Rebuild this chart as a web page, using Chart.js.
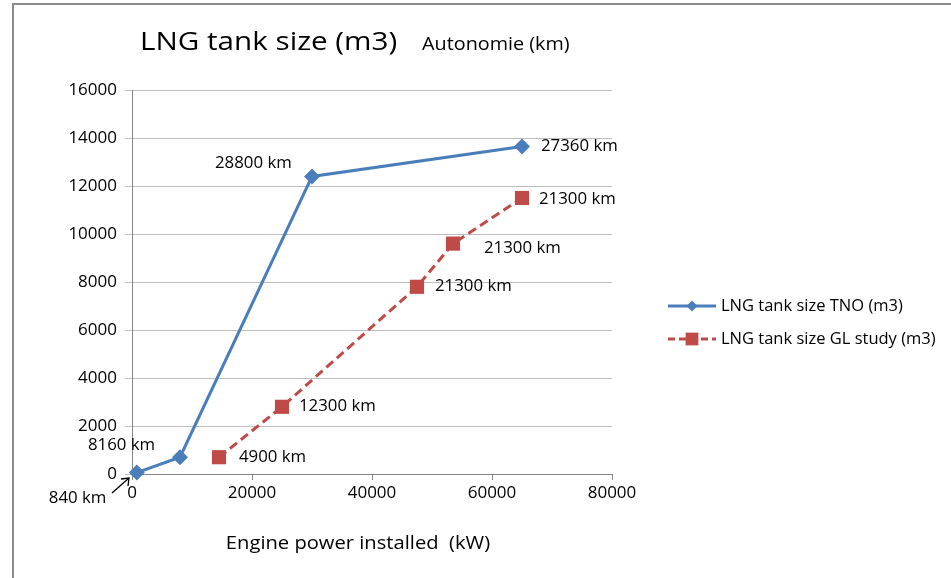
<!DOCTYPE html>
<html><head><meta charset="utf-8">
<script src="https://cdn.jsdelivr.net/npm/chart.js@4/dist/chart.umd.min.js"></script>
<style>html,body{margin:0;padding:0;background:#fff}#wrap{width:951px;height:578px;position:relative}</style>
</head><body><div id="wrap"><canvas id="c" width="951" height="578"></canvas></div>
<script>
// ---- data ----
const xTicks = [0, 20000, 40000, 60000, 80000];
const yTicks = [0, 2000, 4000, 6000, 8000, 10000, 12000, 14000, 16000];
const seriesNames = ['LNG tank size TNO (m3)', 'LNG tank size GL study (m3)'];
const tnoPower = [800, 8000, 30000, 65000];
const tnoTank = [60, 700, 12400, 13650];
const tnoRange = ['840 km', '8160 km', '28800 km', '27360 km'];
const glPower = [14500, 25000, 47500, 53500, 65000];
const glTank = [700, 2800, 7800, 9600, 11500];
const glRange = ['4900 km', '12300 km', '21300 km', '21300 km', '21300 km'];
const titleText = 'LNG tank size (m3)';
const subTitleText = 'Autonomie (km)';
const xTitleText = 'Engine power installed  (kW)';

// ---- style ----
const FONT = '"Open Sans", "DejaVu Sans", sans-serif';
const BLUE = '#4a7ebb';
const RED = '#be4b48';
// label offsets (pixels from point): [dx, dy]
const tnoLabelOff = [[-88, 26], [-92, -12], [-97, -13], [19, 0]];
const glLabelOff = [[20, 0], [17, 0], [18, 0], [31, 5], [17, 1]];

const pts = (xs, ys) => xs.map((x, i) => ({x: x, y: ys[i]}));

function txt(ctx, s, x, y, sx, align) {
  ctx.save();
  ctx.translate(x, y); ctx.scale(sx, 1);
  ctx.textAlign = align || 'left';
  ctx.fillText(s, 0, 0);
  ctx.restore();
}

const overlay = {
  id: 'overlay',
  afterDraw(chart) {
    const ctx = chart.ctx;
    const xs = chart.scales.x, ys = chart.scales.y;
    ctx.save();
    // frame
    ctx.strokeStyle = '#8a8a8a'; ctx.lineWidth = 2;
    ctx.beginPath(); ctx.moveTo(951, 4); ctx.lineTo(13, 4); ctx.lineTo(13, 578); ctx.stroke();
    // titles
    ctx.fillStyle = '#000'; ctx.textBaseline = 'middle';
    ctx.font = '26px ' + FONT;
    txt(ctx, titleText, 140, 43, 1.14);
    ctx.font = '18px ' + FONT;
    txt(ctx, subTitleText, 422, 45, 1.1);
    txt(ctx, xTitleText, 358, 544, 1.12, 'center');
    // data labels
    ctx.font = '16px ' + FONT;
    tnoRange.forEach((t, i) => {
      const px = xs.getPixelForValue(tnoPower[i]), py = ys.getPixelForValue(tnoTank[i]);
      txt(ctx, t, px + tnoLabelOff[i][0], py + tnoLabelOff[i][1], 1.05);
    });
    glRange.forEach((t, i) => {
      const px = xs.getPixelForValue(glPower[i]), py = ys.getPixelForValue(glTank[i]);
      txt(ctx, t, px + glLabelOff[i][0], py + glLabelOff[i][1], 1.05);
    });
    // arrow to first point
    const ax = xs.getPixelForValue(0) - 3, ay = ys.getPixelForValue(0) + 4;
    ctx.strokeStyle = '#000'; ctx.lineWidth = 1.3;
    ctx.beginPath(); ctx.moveTo(ax - 17, ay + 15); ctx.lineTo(ax, ay); ctx.stroke();
    ctx.beginPath(); ctx.moveTo(ax - 8, ay + 1); ctx.lineTo(ax, ay); ctx.lineTo(ax - 1, ay + 8); ctx.stroke();
    // legend
    const lx = 668, lw = 48;
    const items = [
      {y: 306, color: BLUE, dash: [], style: 'rectRot', r: 5.5},
      {y: 339, color: RED, dash: [7, 4], style: 'rect', r: 9}
    ];
    items.forEach((it, i) => {
      ctx.strokeStyle = it.color; ctx.lineWidth = 3; ctx.setLineDash(it.dash);
      ctx.beginPath(); ctx.moveTo(lx, it.y); ctx.lineTo(lx + lw, it.y); ctx.stroke();
      ctx.setLineDash([]);
      ctx.fillStyle = it.color;
      Chart.helpers.drawPoint(ctx, {pointStyle: it.style, radius: it.r, borderWidth: 0}, lx + lw / 2, it.y);
      ctx.fillStyle = '#000'; ctx.font = '16.5px ' + FONT;
      txt(ctx, seriesNames[i], 721, it.y, 1.0);
    });
    ctx.restore();
  }
};

new Chart(document.getElementById('c'), {
  type: 'scatter',
  data: {
    datasets: [
      {label: seriesNames[0], data: pts(tnoPower, tnoTank), showLine: true,
       borderColor: BLUE, backgroundColor: BLUE, borderWidth: 3,
       pointStyle: 'rectRot', pointRadius: 8, pointHoverRadius: 8, pointBorderWidth: 0, clip: false},
      {label: seriesNames[1], data: pts(glPower, glTank), showLine: true,
       borderColor: RED, backgroundColor: RED, borderWidth: 3, borderDash: [9, 5],
       pointStyle: 'rect', pointRadius: 10, pointHoverRadius: 10, pointBorderWidth: 0, clip: false}
    ]
  },
  options: {
    responsive: false, animation: false, devicePixelRatio: 1,
    layout: {padding: {left: 0, top: 90, right: 339, bottom: 0}},
    plugins: {legend: {display: false}, tooltip: {enabled: false}},
    scales: {
      x: {
        type: 'linear', min: 0, max: 80000,
        afterBuildTicks: s => { s.ticks = xTicks.map(v => ({value: v})); },
        afterFit: s => { s.height = 104; },
        ticks: {color: '#000', font: {family: FONT, size: 17}, padding: 3, maxRotation: 0,
                callback: v => String(v)},
        grid: {drawOnChartArea: false, drawTicks: true, tickLength: 6, color: '#868686'},
        border: {color: '#868686', width: 1}
      },
      y: {
        type: 'linear', min: 0, max: 16000,
        afterBuildTicks: s => { s.ticks = yTicks.map(v => ({value: v})); },
        afterFit: s => { s.width = 132; },
        ticks: {color: '#000', font: {family: FONT, size: 17}, padding: 8,
                callback: v => String(v)},
        grid: {color: '#bdbdbd', tickLength: 7, drawTicks: true},
        border: {color: '#868686', width: 1}
      }
    }
  },
  plugins: [overlay]
});
</script>
</body></html>
